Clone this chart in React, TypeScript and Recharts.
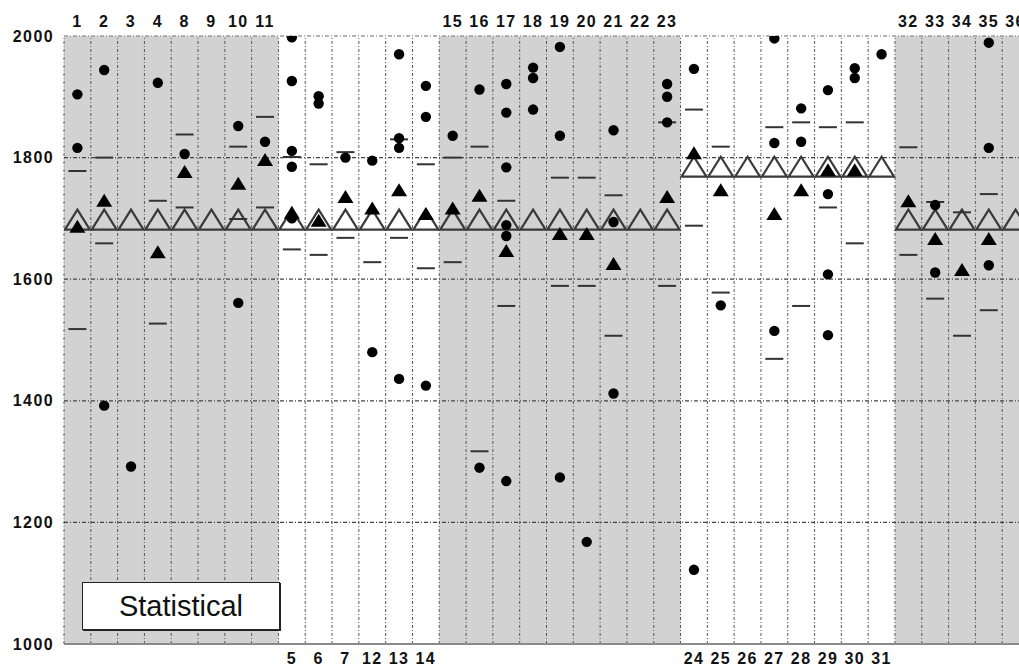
import React from 'react';
import { ScatterChart, Scatter, XAxis, YAxis, ReferenceArea, ReferenceLine } from 'recharts';

// Column labels, in plotting order (left to right)
const columnLabels = [
  '1', '2', '3', '4', '8', '9', '10', '11',
  '5', '6', '7', '12', '13', '14',
  '15', '16', '17', '18', '19', '20', '21', '22', '23',
  '24', '25', '26', '27', '28', '29', '30', '31',
  '32', '33', '34', '35', '36',
];

// Shaded column groups: [startIndex, endIndex)
const shadedGroups: [number, number][] = [[0, 8], [14, 23], [31, 36]];

// Open triangle (reference level) per column
const baselineValues = [
  1698, 1698, 1698, 1698, 1698, 1698, 1698, 1698,
  1698, 1698, 1698, 1698, 1698, 1698,
  1698, 1698, 1698, 1698, 1698, 1698, 1698, 1698, 1698,
  1785, 1785, 1785, 1785, 1785, 1785, 1785, 1785,
  1698, 1698, 1698, 1698, 1698,
];

// Filled circles: [column label, value]
const circleValues: [string, number][] = [
  ['1', 1904], ['1', 1816],
  ['2', 1944], ['2', 1392],
  ['3', 1292],
  ['4', 1923],
  ['8', 1806],
  ['10', 1852], ['10', 1561],
  ['11', 1826],
  ['5', 1998], ['5', 1926], ['5', 1811], ['5', 1785], ['5', 1700],
  ['6', 1901], ['6', 1889],
  ['7', 1800],
  ['12', 1795], ['12', 1480],
  ['13', 1970], ['13', 1832], ['13', 1816], ['13', 1436],
  ['14', 1918], ['14', 1867], ['14', 1425],
  ['15', 1836],
  ['16', 1912], ['16', 1290],
  ['17', 1921], ['17', 1874], ['17', 1784], ['17', 1689], ['17', 1671], ['17', 1268],
  ['18', 1948], ['18', 1931], ['18', 1879],
  ['19', 1982], ['19', 1836], ['19', 1274],
  ['20', 1168],
  ['21', 1845], ['21', 1694], ['21', 1412],
  ['23', 1921], ['23', 1900], ['23', 1858],
  ['24', 1946], ['24', 1122],
  ['25', 1557],
  ['27', 1996], ['27', 1824], ['27', 1515],
  ['28', 1881], ['28', 1826],
  ['29', 1911], ['29', 1740], ['29', 1608], ['29', 1508],
  ['30', 1947], ['30', 1931],
  ['31', 1970],
  ['33', 1722], ['33', 1611],
  ['35', 1989], ['35', 1816], ['35', 1623],
];

// Filled triangles: [column label, value]
const triangleValues: [string, number][] = [
  ['1', 1687], ['2', 1730], ['4', 1645], ['8', 1777], ['10', 1758], ['11', 1797],
  ['5', 1710], ['6', 1697], ['7', 1736], ['12', 1717], ['13', 1747], ['14', 1708],
  ['15', 1717], ['16', 1738], ['17', 1647], ['19', 1675], ['20', 1675], ['21', 1626], ['23', 1736],
  ['24', 1808], ['25', 1747], ['27', 1708], ['28', 1747], ['29', 1780], ['30', 1780],
  ['32', 1729], ['33', 1667], ['34', 1616], ['35', 1667],
];

// Horizontal dashes: [column label, value]
const dashValues: [string, number][] = [
  ['1', 1778], ['1', 1518],
  ['2', 1800], ['2', 1659],
  ['4', 1729], ['4', 1527],
  ['8', 1838], ['8', 1718],
  ['10', 1818], ['10', 1699],
  ['11', 1867], ['11', 1718],
  ['5', 1801], ['5', 1649],
  ['6', 1789], ['6', 1640],
  ['7', 1809], ['7', 1668],
  ['12', 1628],
  ['13', 1830], ['13', 1668],
  ['14', 1789], ['14', 1618],
  ['15', 1800], ['15', 1628],
  ['16', 1818], ['16', 1317],
  ['17', 1729], ['17', 1556],
  ['19', 1767], ['19', 1589],
  ['20', 1767], ['20', 1589],
  ['21', 1738], ['21', 1507],
  ['23', 1858], ['23', 1589],
  ['24', 1879], ['24', 1688],
  ['25', 1818], ['25', 1578],
  ['27', 1850], ['27', 1469],
  ['28', 1858], ['28', 1556],
  ['29', 1850], ['29', 1718],
  ['30', 1858], ['30', 1659],
  ['32', 1817], ['32', 1640],
  ['33', 1727], ['33', 1568],
  ['34', 1710], ['34', 1507],
  ['35', 1740], ['35', 1549],
];

const yTicks = [1000, 1200, 1400, 1600, 1800, 2000];
const gridYValues = [1200, 1400, 1600, 1800, 2000];

const colIndex = (label: string) => columnLabels.indexOf(label);
const toPoints = (arr: [string, number][]) =>
  arr.map(([l, v]) => ({ x: colIndex(l) + 0.5, y: v }));

const isShaded = (i: number) => shadedGroups.some(([a, b]) => i >= a && i < b);

const baselinePoints = baselineValues.map((v, i) => ({ x: i + 0.5, y: v }));
const circlePoints = toPoints(circleValues);
const trianglePoints = toPoints(triangleValues);
const dashPoints = toPoints(dashValues);

const topTicks = columnLabels.map((_, i) => i).filter((i) => isShaded(i)).map((i) => i + 0.5);
const bottomTicks = columnLabels.map((_, i) => i).filter((i) => !isShaded(i)).map((i) => i + 0.5);
const boundaryTicks = columnLabels.map((_, i) => i);

const labelFor = (v: number) => columnLabels[Math.floor(v)] ?? '';

const FONT = '"Liberation Sans", Arial, Helvetica, sans-serif';
const tickStyle = { fontSize: 16, fontWeight: 'bold', fill: '#111', fontFamily: FONT, letterSpacing: 1.4 };

const OpenTriangle = (p: any) => {
  const { cx, cy } = p;
  if (cx == null || cy == null) return null;
  const d = `M${cx - 12.5},${cy + 10}L${cx},${cy - 10}L${cx + 12.5},${cy + 10}Z`;
  return (
    <g>
      <path d={d} fill="none" stroke="#3a3a3a" strokeWidth={2.2} strokeLinejoin="miter" />
    </g>
  );
};

const FilledTriangle = (p: any) => {
  const { cx, cy } = p;
  if (cx == null || cy == null) return null;
  const d = `M${cx - 8},${cy + 6.5}L${cx},${cy - 6.5}L${cx + 8},${cy + 6.5}Z`;
  return <path d={d} fill="#000" />;
};

const Dot = (p: any) => {
  const { cx, cy } = p;
  if (cx == null || cy == null) return null;
  return <circle cx={cx} cy={cy} r={5.2} fill="#000" />;
};

const Dash = (p: any) => {
  const { cx, cy } = p;
  if (cx == null || cy == null) return null;
  return <line x1={cx - 9} x2={cx + 9} y1={cy} y2={cy} stroke="#333" strokeWidth={2} />;
};

export default function App() {
  return (
    <div
      style={{
        position: 'absolute',
        left: 0,
        top: 0,
        width: 1019,
        height: 667,
        overflow: 'hidden',
        background: '#fff',
      }}
    >
      <ScatterChart width={1040} height={667} margin={{ top: 6, right: 11, bottom: 0, left: 0 }}>
        <XAxis
          xAxisId="bottom"
          dataKey="x"
          type="number"
          domain={[0, 36]}
          allowDataOverflow
          orientation="bottom"
          ticks={bottomTicks}
          interval={0}
          tickFormatter={labelFor}
          tick={tickStyle}
          tickLine={false}
          tickSize={6}
          tickMargin={3}
          height={23}
          axisLine={{ stroke: '#8a8a8a', strokeWidth: 2 }}
        />
        <XAxis
          xAxisId="top"
          dataKey="x"
          type="number"
          domain={[0, 36]}
          allowDataOverflow
          orientation="top"
          ticks={topTicks}
          interval={0}
          tickFormatter={labelFor}
          tick={tickStyle}
          tickLine={false}
          tickSize={6}
          tickMargin={3}
          height={30}
          axisLine={false}
        />
        <XAxis
          xAxisId="grid"
          dataKey="x"
          type="number"
          domain={[0, 36]}
          allowDataOverflow
          ticks={boundaryTicks}
          hide
        />
        <YAxis
          dataKey="y"
          type="number"
          domain={[1000, 2000]}
          allowDataOverflow
          ticks={yTicks}
          interval={0}
          tick={tickStyle}
          tickLine={false}
          tickSize={6}
          tickMargin={4}
          axisLine={false}
          width={64}
        />
        {shadedGroups.map(([a, b]) => (
          <ReferenceArea
            key={`band-${a}`}
            xAxisId="bottom"
            x1={a}
            x2={b}
            y1={1000}
            y2={2000}
            fill="#d2d2d2"
            fillOpacity={1}
            stroke="none"
            ifOverflow="hidden"
          />
        ))}
        {boundaryTicks.map((x) => (
          <ReferenceLine
            key={`v-${x}`}
            xAxisId="bottom"
            x={x}
            stroke="#555"
            strokeWidth={1}
            strokeDasharray="3 2 1 2"
          />
        ))}
        {gridYValues.map((y) => (
          <ReferenceLine
            key={`h-${y}`}
            xAxisId="bottom"
            y={y}
            stroke={y === 2000 ? '#9a9a9a' : '#444'}
            strokeWidth={y === 2000 ? 1.5 : 1.2}
            strokeDasharray="4 2 1 2"
          />
        ))}
        <Scatter xAxisId="top" data={baselinePoints} shape={OpenTriangle} isAnimationActive={false} />
        <Scatter xAxisId="bottom" data={dashPoints} shape={Dash} isAnimationActive={false} />
        <Scatter xAxisId="bottom" data={trianglePoints} shape={FilledTriangle} isAnimationActive={false} />
        <Scatter xAxisId="bottom" data={circlePoints} shape={Dot} isAnimationActive={false} />
      </ScatterChart>
      <div
        style={{
          position: 'absolute',
          left: 82,
          top: 582,
          width: 196,
          height: 46,
          background: '#fff',
          border: '1.5px solid #222',
          boxShadow: '1px 1px 0 #222',
          display: 'flex',
          alignItems: 'center',
          justifyContent: 'center',
          fontFamily: FONT,
          fontSize: 29,
          color: '#111',
        }}
      >
        Statistical
      </div>
    </div>
  );
}
